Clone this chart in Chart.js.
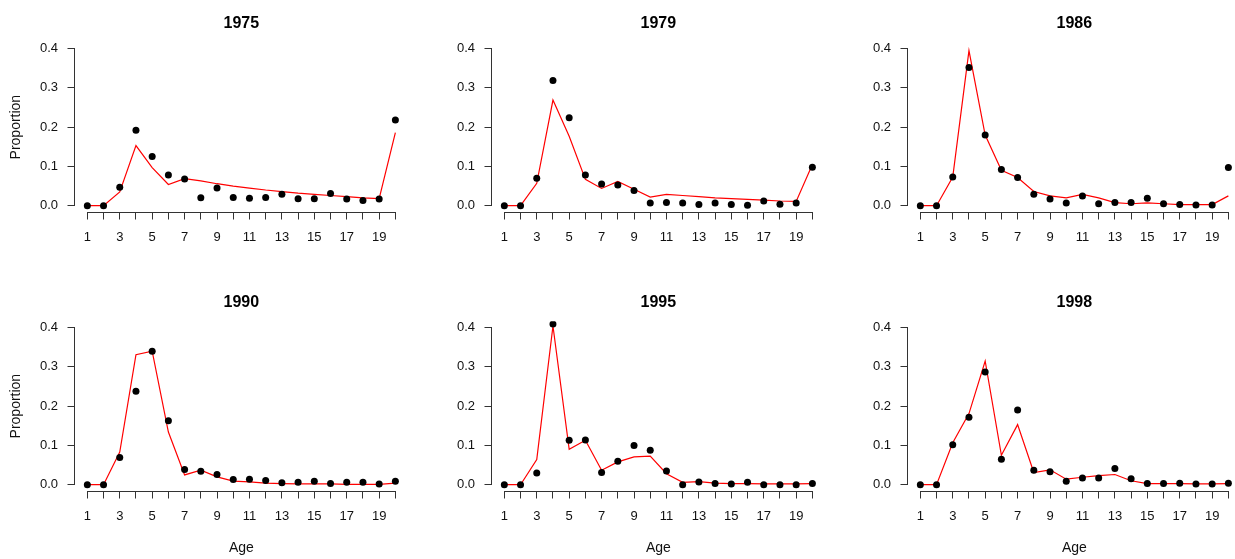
<!DOCTYPE html>
<html>
<head>
<meta charset="utf-8">
<script src="https://cdn.jsdelivr.net/npm/chart.js@4.4.1/dist/chart.umd.min.js"></script>
<style>
html,body{margin:0;padding:0;background:#fff;overflow:hidden;width:1235px;height:559px;}
#wrap{position:relative;width:1235px;height:559px;overflow:hidden;background:#fff;}
#wrap canvas{position:absolute;}
</style>
</head>
<body>
<div id="wrap"></div>
<script>
// ---- data ----
const ages = [1,2,3,4,5,6,7,8,9,10,11,12,13,14,15,16,17,18,19,20];
const xTickLabels = ['1','','3','','5','','7','','9','','11','','13','','15','','17','','19',''];
const yTicks = [0,0.1,0.2,0.3,0.4];
const yTickLabels = ['0.0','0.1','0.2','0.3','0.4'];
const years = ['1975','1979','1986','1990','1995','1998'];

const obs1975 = [0,0,0.047,0.192,0.125,0.078,0.068,0.020,0.045,0.021,0.019,0.021,0.029,0.018,0.018,0.031,0.017,0.013,0.017,0.218];
const fit1975 = [0,0,0.035,0.153,0.097,0.054,0.069,0.063,0.056,0.050,0.045,0.040,0.036,0.032,0.029,0.026,0.023,0.020,0.018,0.186];

const obs1979 = [0,0,0.070,0.319,0.224,0.078,0.055,0.053,0.039,0.007,0.008,0.007,0.003,0.007,0.003,0.001,0.012,0.004,0.007,0.098];
const fit1979 = [0,0,0.057,0.269,0.177,0.067,0.044,0.062,0.042,0.022,0.029,0.026,0.023,0.020,0.018,0.016,0.014,0.012,0.011,0.105];

const obs1986 = [0,0,0.073,0.352,0.180,0.092,0.072,0.029,0.017,0.007,0.025,0.005,0.008,0.008,0.019,0.005,0.003,0.002,0.002,0.097];
const fit1986 = [0,0,0.073,0.395,0.180,0.090,0.072,0.036,0.025,0.020,0.029,0.020,0.008,0.005,0.007,0.005,0.003,0.003,0.003,0.025];

const obs1990 = [0,0,0.069,0.238,0.340,0.163,0.039,0.034,0.026,0.013,0.014,0.011,0.005,0.006,0.009,0.003,0.006,0.006,0.002,0.009];
const fit1990 = [0,0,0.083,0.331,0.340,0.134,0.025,0.037,0.020,0.009,0.007,0.004,0.003,0.002,0.002,0.002,0.001,0.001,0.001,0.004];

const obs1995 = [0,0,0.030,0.409,0.113,0.114,0.031,0.060,0.100,0.088,0.035,0.000,0.007,0.003,0.002,0.006,0.000,0.000,0.000,0.003];
const fit1995 = [0,0,0.064,0.404,0.090,0.113,0.037,0.058,0.071,0.073,0.028,0.006,0.008,0.004,0.003,0.003,0.002,0.002,0.002,0.003];

const obs1998 = [0,0,0.102,0.172,0.287,0.065,0.190,0.037,0.033,0.009,0.017,0.017,0.041,0.015,0.003,0.003,0.004,0.002,0.002,0.004];
const fit1998 = [0,0,0.107,0.181,0.315,0.075,0.153,0.031,0.038,0.014,0.019,0.023,0.026,0.010,0.003,0.003,0.003,0.002,0.002,0.003];

const panelObs = [obs1975, obs1979, obs1986, obs1990, obs1995, obs1998];
const panelFit = [fit1975, fit1979, fit1986, fit1990, fit1995, fit1998];

// ---- layout ----
const FONT = "'Liberation Sans', Arial, Helvetica, sans-serif";
const colLefts = [0, 417, 833];
const rowTops = [0, 279];
const CW = 417, CH = 280;

const axisLines = {
  id: 'axisLines',
  afterDraw(chart) {
    const {ctx, chartArea, scales} = chart;
    const x = scales.x, y = scales.y;
    ctx.save();
    ctx.strokeStyle = '#333';
    ctx.lineWidth = 1;
    ctx.beginPath();
    const yb = Math.round(chartArea.bottom) + 0.5;
    ctx.moveTo(x.getPixelForValue(ages[0]), yb);
    ctx.lineTo(x.getPixelForValue(ages[ages.length - 1]), yb);
    const xl = Math.round(chartArea.left) - 0.5;
    ctx.moveTo(xl, y.getPixelForValue(yTicks[0]));
    ctx.lineTo(xl, y.getPixelForValue(yTicks[yTicks.length - 1]));
    ctx.stroke();
    ctx.restore();
  }
};

const wrap = document.getElementById('wrap');

years.forEach((yr, k) => {
  const col = k % 3, row = Math.floor(k / 3);
  const cv = document.createElement('canvas');
  cv.width = CW; cv.height = CH;
  cv.style.width = CW + 'px'; cv.style.height = CH + 'px';
  cv.style.left = colLefts[col] + 'px';
  cv.style.top = rowTops[row] + 'px';
  wrap.appendChild(cv);

  const obs = panelObs[k], fit = panelFit[k];

  new Chart(cv.getContext('2d'), {
    type: 'line',
    data: {
      datasets: [
        {
          label: 'Observed',
          data: obs.map((v, i) => ({x: ages[i], y: v})),
          showLine: false,
          pointRadius: 3.5,
          pointBackgroundColor: '#000',
          pointBorderColor: '#000',
          pointBorderWidth: 0,
          order: 0
        },
        {
          label: 'Fitted',
          data: fit.map((v, i) => ({x: ages[i], y: v})),
          borderColor: '#ff0000',
          borderWidth: 1.2,
          pointRadius: 0,
          tension: 0,
          fill: false,
          order: 1
        }
      ]
    },
    options: {
      responsive: false,
      animation: false,
      events: [],
      layout: {padding: {left: 0, right: 9.3, top: 0, bottom: 0}},
      plugins: {
        legend: {display: false},
        tooltip: {enabled: false},
        title: {
          display: true,
          text: yr,
          fullSize: false,
          color: '#000',
          font: {family: FONT, size: 16, weight: 'bold'},
          padding: {top: 14.2, bottom: 8.9}
        }
      },
      scales: {
        x: {
          type: 'linear',
          min: 0.24,
          max: 20.76,
          afterBuildTicks: s => { s.ticks = ages.map(v => ({value: v})); },
          afterFit: s => { s.height = 68; },
          ticks: {
            autoSkip: false,
            maxRotation: 0,
            minRotation: 0,
            padding: 10.5,
            color: '#111',
            font: {family: FONT, size: 13},
            callback: (v, i) => xTickLabels[i]
          },
          grid: {drawOnChartArea: false, drawTicks: true, tickLength: 7.5, tickColor: '#333', tickWidth: 1},
          border: {display: false},
          title: {
            display: row === 1,
            text: 'Age',
            color: '#111',
            font: {family: FONT, size: 14},
            padding: {top: 0, bottom: 2}
          }
        },
        y: {
          type: 'linear',
          min: -0.016,
          max: 0.416,
          afterBuildTicks: s => { s.ticks = yTicks.map(v => ({value: v})); },
          afterFit: s => { s.width = 75; },
          ticks: {
            padding: 9.5,
            color: '#111',
            font: {family: FONT, size: 13},
            callback: (v, i) => yTickLabels[i]
          },
          grid: {drawOnChartArea: false, drawTicks: true, tickLength: 7.5, tickColor: '#333', tickWidth: 1},
          border: {display: false},
          title: {
            display: col === 0,
            text: 'Proportion',
            color: '#111',
            font: {family: FONT, size: 14},
            padding: {top: 8, bottom: 0}
          }
        }
      }
    },
    plugins: [axisLines]
  });
});
</script>
</body>
</html>
